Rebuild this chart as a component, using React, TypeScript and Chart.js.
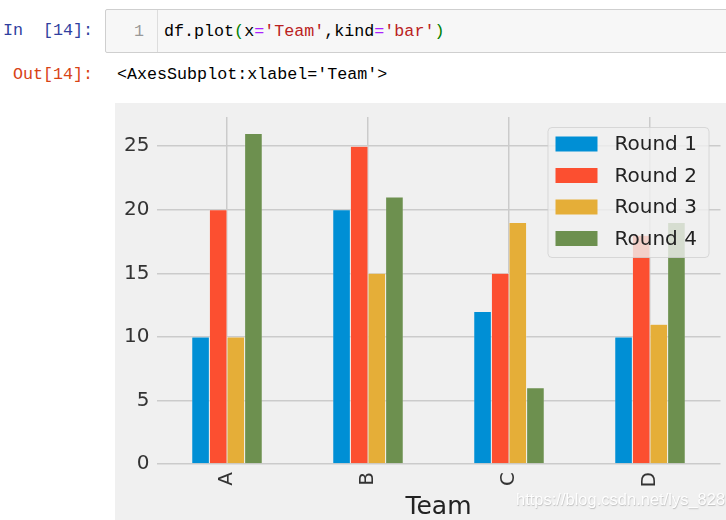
import React, { useEffect, useRef } from "react";
import { Chart, registerables } from "chart.js";

Chart.register(...registerables);

const categories = ["A", "B", "C", "D"];
const seriesNames = ["Round 1", "Round 2", "Round 3", "Round 4"];
const round1 = [10, 20, 12, 10];
const round2 = [20, 25, 15, 18];
const round3 = [10, 15, 19, 11];
const round4 = [26, 21, 6, 19];
const seriesColors = ["#008fd5", "#fc4f30", "#e5ae38", "#6d904f"];
const yTicks = [0, 5, 10, 15, 20, 25];
const yMax = 27.3;
const xTitle = "Team";

const FONT = "'DejaVu Sans', sans-serif";
const MONO = "'Liberation Mono', 'DejaVu Sans Mono', monospace";

const insideLegend = {
  id: "insideLegend",
  afterDatasetsDraw(chart: any) {
    const ctx = chart.ctx as CanvasRenderingContext2D;
    const area = chart.chartArea;
    const w = 161;
    const h = 130;
    const x0 = area.right - 12 - w;
    const y0 = area.top + 10;
    ctx.save();
    ctx.globalAlpha = 0.8;
    ctx.fillStyle = "#f0f0f0";
    ctx.strokeStyle = "#d0d0d0";
    ctx.lineWidth = 1;
    ctx.beginPath();
    (ctx as any).roundRect(x0 + 0.5, y0 + 0.5, w, h, 4);
    ctx.fill();
    ctx.stroke();
    ctx.globalAlpha = 1;
    chart.data.datasets.forEach((ds: any, i: number) => {
      const cy = y0 + 17 + i * 31.5;
      ctx.fillStyle = ds.backgroundColor;
      ctx.fillRect(x0 + 8, cy - 7.5, 42, 15);
      ctx.fillStyle = "#222222";
      ctx.font = `20px ${FONT}`;
      ctx.textBaseline = "middle";
      ctx.textAlign = "left";
      ctx.fillText(ds.label, x0 + 67, cy + 1);
    });
    ctx.restore();
  },
};

function BarChart() {
  const ref = useRef<HTMLCanvasElement | null>(null);
  useEffect(() => {
    if (!ref.current) return;
    const values = [round1, round2, round3, round4];
    const chart = new Chart(ref.current, {
      type: "bar",
      data: {
        labels: categories,
        datasets: seriesNames.map((name, i) => ({
          label: name,
          data: values[i],
          backgroundColor: seriesColors[i],
          borderColor: "#f0f0f0",
          borderWidth: 0.5,
          categoryPercentage: 0.5,
          barPercentage: 1,
        })),
      },
      options: {
        responsive: false,
        animation: false,
        devicePixelRatio: 1,
        layout: { padding: { top: 14, right: 5.5, left: 0, bottom: 0 } },
        plugins: {
          legend: { display: false },
          tooltip: { enabled: false },
        },
        scales: {
          x: {
            grid: {
              offset: false,
              color: "#cbcbcb",
              lineWidth: 1.5,
              drawTicks: false,
            },
            border: { display: false },
            ticks: {
              minRotation: 90,
              maxRotation: 90,
              padding: 8,
              color: "#333333",
              font: { family: FONT, size: 20 },
            },
            title: {
              display: true,
              text: xTitle,
              color: "#222222",
              font: { family: FONT, size: 25 },
              padding: { top: 0, bottom: -2 },
            },
            afterFit(scale: any) {
              scale.height = 56;
              scale.paddingLeft = 0;
              scale.paddingRight = 0;
            },
          },
          y: {
            min: 0,
            max: yMax,
            grid: {
              color: "#cbcbcb",
              lineWidth: 1.5,
              drawTicks: false,
            },
            border: { display: false },
            ticks: {
              stepSize: 5,
              includeBounds: false,
              padding: 7,
              color: "#333333",
              font: { family: FONT, size: 20 },
            },
            afterBuildTicks(scale: any) {
              scale.ticks = yTicks.map((v) => ({ value: v }));
            },
            afterFit(scale: any) {
              scale.width = 41.5;
              scale.paddingTop = 0;
              scale.paddingBottom = 0;
            },
          },
        },
      },
      plugins: [insideLegend],
    } as any);
    return () => chart.destroy();
  }, []);
  return <canvas ref={ref} width={611} height={417} style={{ display: "block" }} />;
}

export default function App() {
  const kw = { color: "#AA22FF" };
  const str = { color: "#BA2121" };
  const par = { color: "#008000" };
  return (
    <div style={{ position: "absolute", left: 0, top: 0, width: 726, height: 520, background: "#ffffff", overflow: "hidden", fontFamily: MONO }}>
      <div style={{ position: "absolute", left: 3, top: 19, fontSize: 16.7, color: "#303F9F", whiteSpace: "pre", lineHeight: "24px" }}>
        {"In  [14]:"}
      </div>
      <div style={{ position: "absolute", left: 105, top: 9, width: 640, height: 42, background: "#f7f7f7", border: "1px solid #cfcfcf", borderRadius: 2 }}>
        <div style={{ position: "absolute", left: 51, top: 0, width: 1, height: 42, background: "#dddddd" }} />
        <div style={{ position: "absolute", left: 28, top: 10, fontSize: 16.7, color: "#999999", lineHeight: "24px" }}>1</div>
        <div style={{ position: "absolute", left: 58, top: 10, fontSize: 16.7, color: "#000000", whiteSpace: "pre", lineHeight: "24px" }}>
          df.plot<span style={par}>(</span>x<span style={kw}>=</span><span style={str}>'Team'</span>,kind<span style={kw}>=</span><span style={str}>'bar'</span><span style={par}>)</span>
        </div>
      </div>
      <div style={{ position: "absolute", left: 13, top: 63, fontSize: 16.7, color: "#D84315", whiteSpace: "pre", lineHeight: "24px" }}>
        {"Out[14]:"}
      </div>
      <div style={{ position: "absolute", left: 117, top: 63, fontSize: 16.7, color: "#000000", whiteSpace: "pre", lineHeight: "24px" }}>
        {"<AxesSubplot:xlabel='Team'>"}
      </div>
      <div style={{ position: "absolute", left: 115, top: 103, width: 611, height: 417, background: "#f0f0f0" }}>
        <BarChart />
      </div>
      <div style={{ position: "absolute", left: 516, top: 490, fontSize: 16.5, fontFamily: "'Liberation Sans', Arial, sans-serif", color: "rgba(255,255,255,0.97)", textShadow: "0.5px 0.5px 1px rgba(170,170,170,0.7)", whiteSpace: "pre" }}>
        https://blog.csdn.net/lys_828
      </div>
    </div>
  );
}
